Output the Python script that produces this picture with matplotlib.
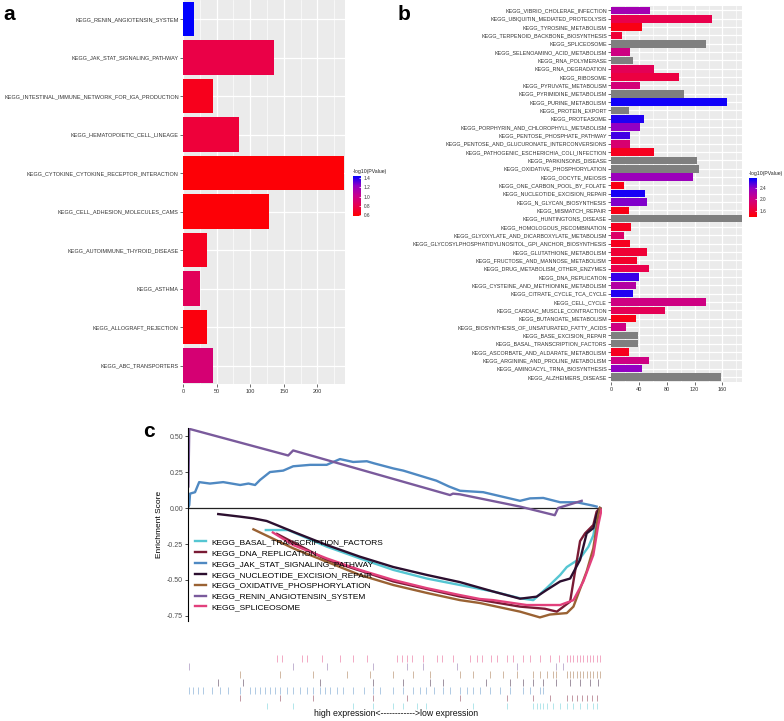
"""
KEGG enrichment bars (a, b) and GSEA running enrichment scores (c).
"""
import numpy as np
import matplotlib.pyplot as plt
from matplotlib.colors import LinearSegmentedColormap, Normalize
from matplotlib.cm import ScalarMappable

plt.rcParams['font.family'] = ['Liberation Sans', 'DejaVu Sans']

# ---------------- panel a data ----------------
a_terms = [
    "KEGG_RENIN_ANGIOTENSIN_SYSTEM", "KEGG_JAK_STAT_SIGNALING_PATHWAY",
    "KEGG_INTESTINAL_IMMUNE_NETWORK_FOR_IGA_PRODUCTION", "KEGG_HEMATOPOIETIC_CELL_LINEAGE",
    "KEGG_CYTOKINE_CYTOKINE_RECEPTOR_INTERACTION", "KEGG_CELL_ADHESION_MOLECULES_CAMS",
    "KEGG_AUTOIMMUNE_THYROID_DISEASE", "KEGG_ASTHMA", "KEGG_ALLOGRAFT_REJECTION",
    "KEGG_ABC_TRANSPORTERS",
]
a_counts = [17, 135, 45, 84, 240, 128, 36, 26, 36, 44]
a_logp = [1.45, 0.78, 0.66, 0.74, 0.60, 0.60, 0.67, 0.84, 0.62, 0.93]

# ---------------- panel b data ----------------
b_terms = [
    "KEGG_VIBRIO_CHOLERAE_INFECTION", "KEGG_UBIQUITIN_MEDIATED_PROTEOLYSIS",
    "KEGG_TYROSINE_METABOLISM", "KEGG_TERPENOID_BACKBONE_BIOSYNTHESIS", "KEGG_SPLICEOSOME",
    "KEGG_SELENOAMINO_ACID_METABOLISM", "KEGG_RNA_POLYMERASE", "KEGG_RNA_DEGRADATION",
    "KEGG_RIBOSOME", "KEGG_PYRUVATE_METABOLISM", "KEGG_PYRIMIDINE_METABOLISM",
    "KEGG_PURINE_METABOLISM", "KEGG_PROTEIN_EXPORT", "KEGG_PROTEASOME",
    "KEGG_PORPHYRIN_AND_CHLOROPHYLL_METABOLISM", "KEGG_PENTOSE_PHOSPHATE_PATHWAY",
    "KEGG_PENTOSE_AND_GLUCURONATE_INTERCONVERSIONS", "KEGG_PATHOGENIC_ESCHERICHIA_COLI_INFECTION",
    "KEGG_PARKINSONS_DISEASE", "KEGG_OXIDATIVE_PHOSPHORYLATION", "KEGG_OOCYTE_MEIOSIS",
    "KEGG_ONE_CARBON_POOL_BY_FOLATE", "KEGG_NUCLEOTIDE_EXCISION_REPAIR",
    "KEGG_N_GLYCAN_BIOSYNTHESIS", "KEGG_MISMATCH_REPAIR", "KEGG_HUNTINGTONS_DISEASE",
    "KEGG_HOMOLOGOUS_RECOMBINATION", "KEGG_GLYOXYLATE_AND_DICARBOXYLATE_METABOLISM",
    "KEGG_GLYCOSYLPHOSPHATIDYLINOSITOL_GPI_ANCHOR_BIOSYNTHESIS", "KEGG_GLUTATHIONE_METABOLISM",
    "KEGG_FRUCTOSE_AND_MANNOSE_METABOLISM", "KEGG_DRUG_METABOLISM_OTHER_ENZYMES",
    "KEGG_DNA_REPLICATION", "KEGG_CYSTEINE_AND_METHIONINE_METABOLISM",
    "KEGG_CITRATE_CYCLE_TCA_CYCLE", "KEGG_CELL_CYCLE", "KEGG_CARDIAC_MUSCLE_CONTRACTION",
    "KEGG_BUTANOATE_METABOLISM", "KEGG_BIOSYNTHESIS_OF_UNSATURATED_FATTY_ACIDS",
    "KEGG_BASE_EXCISION_REPAIR", "KEGG_BASAL_TRANSCRIPTION_FACTORS",
    "KEGG_ASCORBATE_AND_ALDARATE_METABOLISM", "KEGG_ARGININE_AND_PROLINE_METABOLISM",
    "KEGG_AMINOACYL_TRNA_BIOSYNTHESIS", "KEGG_ALZHEIMERS_DISEASE",
]
b_counts = [56, 145, 44, 16, 136, 27, 31, 62, 97, 42, 105, 167, 26, 47, 42, 27, 27, 62,
            123, 127, 118, 18, 49, 51, 26, 188, 28, 18, 27, 52, 38, 54, 40, 36, 32, 137,
            78, 36, 22, 39, 39, 26, 55, 45, 158]
nan = float("nan")
b_logp = [2.30, 1.70, 1.45, 1.60, nan, 2.00, nan, 1.75, 1.65, 1.95, nan, 2.72, nan, 2.68,
          2.40, 2.60, 1.90, 1.50, nan, nan, 2.35, 1.45, 2.70, 2.45, 1.45, nan, 1.50, 1.85,
          1.50, 1.60, 1.55, 1.70, 2.62, 2.20, 2.68, 2.00, 1.75, 1.45, 2.00, nan, nan, 1.50,
          2.00, 2.40, nan]

# ---------------- panel c data (rank fraction, enrichment score) ----------------
gsea_sets = ["KEGG_BASAL_TRANSCRIPTION_FACTORS", "KEGG_DNA_REPLICATION",
             "KEGG_JAK_STAT_SIGNALING_PATHWAY", "KEGG_NUCLEOTIDE_EXCISION_REPAIR",
             "KEGG_OXIDATIVE_PHOSPHORYLATION", "KEGG_RENIN_ANGIOTENSIN_SYSTEM",
             "KEGG_SPLICEOSOME"]
gsea_colors = ["#55C6D2", "#7A1B35", "#4F89C2", "#2C0F2F", "#9A6233", "#7A5A9C", "#E2407C"]

basal_x = [0.188, 0.242, 0.335, 0.415, 0.496, 0.577, 0.657, 0.737, 0.802, 0.834, 0.866,
           0.899, 0.915, 0.947, 0.967, 0.979, 0.987, 0.995]
basal_es = [-0.153, -0.153, -0.268, -0.35, -0.43, -0.49, -0.535, -0.58, -0.627, -0.64, -0.557,
            -0.465, -0.41, -0.35, -0.27, -0.19, -0.07, -0.01]
dna_x = [0.215, 0.335, 0.496, 0.657, 0.802, 0.862, 0.891, 0.923, 0.935, 0.947, 0.959, 0.979,
         0.987, 0.995]
dna_es = [-0.18, -0.36, -0.51, -0.615, -0.685, -0.70, -0.72, -0.65, -0.44, -0.23, -0.176,
          -0.118, -0.025, 0.0]
jak_x = [0.0, 0.003, 0.005, 0.017, 0.027, 0.053, 0.085, 0.126, 0.146, 0.162, 0.174, 0.198,
         0.230, 0.254, 0.295, 0.335, 0.367, 0.399, 0.432, 0.45, 0.496, 0.52, 0.577, 0.60,
         0.63, 0.657, 0.713, 0.802, 0.826, 0.858, 0.899, 0.939, 0.979, 0.987]
jak_es = [0.0, 0.02, 0.10, 0.11, 0.18, 0.17, 0.18, 0.16, 0.17, 0.16, 0.195, 0.25, 0.26, 0.29,
          0.30, 0.30, 0.34, 0.32, 0.325, 0.31, 0.275, 0.26, 0.21, 0.19, 0.15, 0.12, 0.11,
          0.05, 0.067, 0.07, 0.04, 0.04, 0.016, 0.01]
nuc_x = [0.073, 0.126, 0.158, 0.190, 0.214, 0.254, 0.335, 0.415, 0.496, 0.577, 0.657, 0.737,
         0.802, 0.842, 0.866, 0.899, 0.923, 0.947, 0.963, 0.979, 0.987, 0.995]
nuc_es = [-0.042, -0.06, -0.072, -0.09, -0.118, -0.165, -0.257, -0.338, -0.41, -0.465, -0.515,
          -0.58, -0.63, -0.616, -0.57, -0.51, -0.49, -0.36, -0.176, -0.14, -0.05, 0.0]
oxi_x = [0.158, 0.254, 0.335, 0.415, 0.496, 0.577, 0.657, 0.705, 0.802, 0.850, 0.874, 0.915,
         0.931, 0.963, 0.979, 0.991, 0.995]
oxi_es = [-0.148, -0.28, -0.373, -0.465, -0.535, -0.59, -0.64, -0.66, -0.72, -0.76, -0.74,
          -0.73, -0.685, -0.44, -0.28, -0.05, 0.0]
renin_x = [0.001, 0.003, 0.242, 0.254, 0.633, 0.640, 0.657, 0.802, 0.886, 0.894, 0.951]
renin_es = [0.15, 0.55, 0.365, 0.40, 0.09, 0.10, 0.095, 0.01, -0.05, 0.0, 0.05]
spl_x = [0.205, 0.254, 0.335, 0.415, 0.496, 0.577, 0.657, 0.705, 0.737, 0.818, 0.899, 0.931,
         0.955, 0.979, 0.991, 0.999]
spl_es = [-0.17, -0.257, -0.35, -0.43, -0.50, -0.557, -0.605, -0.632, -0.64, -0.674, -0.674,
          -0.64, -0.51, -0.326, -0.118, -0.01]

# hit positions (percent of ranked list) for the barcode rows
basal_hits = [19.0, 25.4, 39.9, 44.8, 49.6, 52.0, 55.2, 57.6, 68.9, 77.0, 83.4, 84.2, 85.0,
              85.8, 86.6, 88.2, 89.8, 91.5, 93.1, 94.7, 96.3, 97.9, 98.7]
dna_hits = [12.6, 22.2, 30.3, 44.8, 52.8, 65.7, 77.0, 83.4, 87.4, 91.5, 92.7, 93.9, 95.1,
            96.3, 97.5, 98.7, 99.9]
jak_hits = [0.3, 1.3, 2.5, 3.7, 5.7, 7.7, 9.7, 12.6, 15.0, 16.2, 17.4, 18.6, 19.8, 21.0, 22.2,
            23.8, 25.4, 27.1, 28.7, 30.3, 31.9, 33.1, 34.3, 35.9, 37.5, 39.9, 42.4, 44.8,
            46.4, 49.6, 52.0, 54.4, 56.0, 57.6, 59.3, 61.7, 63.3, 65.7, 67.3, 68.9, 70.5,
            72.9, 75.4, 77.8, 81.0, 82.6, 85.0, 85.8]
nuc_hits = [7.3, 13.4, 31.9, 44.8, 52.0, 58.5, 61.7, 72.1, 77.8, 81.0, 83.4, 85.8, 89.0, 92.3,
            94.7, 97.1, 99.1]
oxi_hits = [12.6, 22.2, 30.3, 38.3, 44.0, 49.6, 54.4, 58.5, 65.7, 68.9, 72.9, 76.2, 79.4, 83.4,
            85.0, 86.6, 88.2, 89.0, 91.5, 92.3, 93.1, 93.9, 94.7, 95.5, 96.3, 97.1, 97.9,
            98.7, 99.5]
renin_hits = [0.3, 25.4, 33.5, 44.8, 52.8, 56.8, 64.9, 79.4, 89.0, 90.7]
spl_hits = [21.4, 22.6, 27.5, 28.7, 32.3, 36.7, 39.9, 43.2, 50.4, 51.6, 52.8, 54.0, 56.8, 60.1,
            61.3, 64.1, 68.1, 69.7, 70.9, 73.3, 74.6, 77.0, 78.6, 81.0, 82.6, 85.0, 87.4,
            89.5, 91.5, 92.3, 93.1, 93.9, 94.7, 95.5, 96.3, 97.1, 97.9, 98.7, 99.5]

W, H = 784, 721
fig = plt.figure(figsize=(W / 100, H / 100), dpi=100)


def px_axes(x0, y0, x1, y1):
    """Axes placed by pixel box (top-left origin)."""
    return fig.add_axes([x0 / W, 1 - y1 / H, (x1 - x0) / W, (y1 - y0) / H])


def fig_text(x, y, s, **kw):
    fig.text(x / W, 1 - y / H, s, **kw)


grad = LinearSegmentedColormap.from_list(
    "redblue", ["#FF0000", "#E8004E", "#C9008C", "#9200C4", "#0000FF"])


def style_bar_axes(ax, label_size):
    ax.set_facecolor("#EBEBEB")
    for s in ax.spines.values():
        s.set_visible(False)
    ax.grid(True, which="major", color="white", linewidth=0.9, zorder=0)
    ax.grid(True, which="minor", axis="x", color="white", linewidth=0.45, zorder=0)
    ax.set_axisbelow(True)
    ax.tick_params(axis="y", which="major", labelsize=label_size, length=2, width=0.5,
                   color="#333333", pad=1, labelcolor="#333333")
    ax.tick_params(axis="x", which="major", labelsize=4.0, length=2, width=0.5,
                   color="#333333", pad=1.5, labelcolor="#333333")
    ax.tick_params(axis="x", which="minor", length=0)


def add_colorbar(box, norm, ticks, labels, title, title_y):
    cax = px_axes(*box)
    cb = fig.colorbar(ScalarMappable(norm=norm, cmap=grad), cax=cax, ticks=ticks)
    cb.outline.set_visible(False)
    cb.ax.set_yticklabels(labels)
    cax.tick_params(labelsize=3.4, length=1.5, width=0.5, color="white", direction="in",
                    pad=2, labelcolor="#333333")
    fig_text(box[0], title_y, title, fontsize=3.7, color="#222222", va="center", ha="left")


# ---------------- panel a ----------------
ax_a = px_axes(183, 0, 345, 384)
norm_a = Normalize(0.58, 1.45)
ya = np.arange(len(a_terms))
ax_a.barh(ya, a_counts, height=0.9, color=grad(norm_a(a_logp)), zorder=3)
ax_a.set_yticks(ya)
ax_a.set_yticklabels(a_terms)
ax_a.set_ylim(-0.494 + 384 / 38.5, -0.494)
ax_a.set_xlim(0, 241)
ax_a.set_xticks([0, 50, 100, 150, 200])
ax_a.set_xticks([25, 75, 125, 175, 225], minor=True)
style_bar_axes(ax_a, 4.0)
add_colorbar((352.7, 175.7, 360.7, 216), norm_a, [0.6, 0.8, 1.0, 1.2, 1.4],
             ["0.6", "0.8", "1.0", "1.2", "1.4"], "-log10(PValue)", 171)

# ---------------- panel b ----------------
ax_b = px_axes(611, 5.5, 742, 382)
norm_b = Normalize(1.36, 2.76)
yb = np.arange(len(b_terms))
b_cols = [grad(norm_b(v)) if not np.isnan(v) else "#7F7F7F" for v in b_logp]
ax_b.barh(yb, b_counts, height=0.9, color=b_cols, zorder=3)
ax_b.set_yticks(yb)
ax_b.set_yticklabels(b_terms)
ax_b.set_ylim(len(b_terms) - 0.4, -0.6)
ax_b.set_xlim(0, 188)
ax_b.set_xticks([0, 40, 80, 120, 160])
ax_b.set_xticks([20, 60, 100, 140, 180], minor=True)
style_bar_axes(ax_b, 3.9)
add_colorbar((749, 178.3, 756.7, 217.3), norm_b, [1.6, 2.0, 2.4],
             ["1.6", "2.0", "2.4"], "-log10(PValue)", 173)

# ---------------- panel c ----------------
ax_c = px_axes(188, 428, 602, 621)
curves = [(basal_x, basal_es), (dna_x, dna_es), (jak_x, jak_es), (nuc_x, nuc_es),
          (oxi_x, oxi_es), (renin_x, renin_es), (spl_x, spl_es)]
ax_c.axhline(0, color="#222222", linewidth=0.9, zorder=1)
for (xs, es), name, col in zip(curves, gsea_sets, gsea_colors):
    ax_c.plot(xs, es, color=col, linewidth=1.7, label=name, zorder=2,
              solid_joinstyle="round")
ax_c.set_xlim(0, 1)
ax_c.set_ylim(-0.785, 0.556)
ax_c.set_yticks([-0.75, -0.5, -0.25, 0.0, 0.25, 0.5])
ax_c.set_yticklabels(["-0.75", "-0.50", "-0.25", "0.00", "0.25", "0.50"])
ax_c.set_xticks([])
for s in ["top", "right", "bottom"]:
    ax_c.spines[s].set_visible(False)
ax_c.spines["left"].set_linewidth(0.8)
ax_c.tick_params(axis="y", labelsize=5, length=2, width=0.5, pad=1.5, labelcolor="#4D4D4D")
ax_c.set_ylabel("Enrichment Score", fontsize=6, labelpad=3)
ax_c.legend(loc="upper left", bbox_to_anchor=(195 / W, 1 - 538.5 / H),
            bbox_transform=fig.transFigure, frameon=False, fontsize=6, borderpad=0,
            borderaxespad=0, handlelength=1.3, handletextpad=0.7, labelspacing=0.36)

# barcode rows, top row = last set
ax_r = px_axes(188, 655, 602, 710)
hits = [basal_hits, dna_hits, jak_hits, nuc_hits, oxi_hits, renin_hits, spl_hits]
for i, (h, col) in enumerate(zip(hits, gsea_colors)):
    row = i  # basal at bottom
    ax_r.vlines(np.array(h) / 100, row + 0.1, row + 0.95, color=col, alpha=0.45,
                linewidth=0.7)
ax_r.set_xlim(0, 1)
ax_r.set_ylim(0, 7)
ax_r.axis("off")
fig_text(396, 714, "high expression<------------>low expression", fontsize=6.3,
         ha="center", va="center", color="#111111")

# panel letters
fig_text(3, 14, "a", fontsize=15, fontweight="bold", va="center")
fig_text(398, 14, "b", fontsize=15, fontweight="bold", va="center")
fig_text(143, 432, "c", fontsize=15, fontweight="bold", va="center")

fig.savefig("out.png", dpi=100)
